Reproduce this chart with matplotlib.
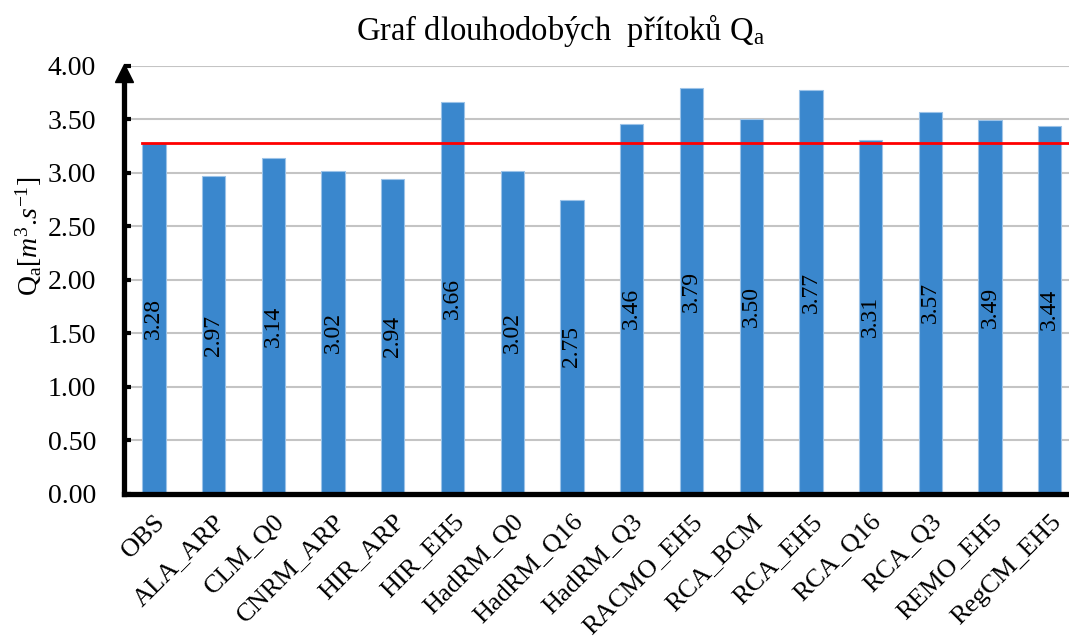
import matplotlib
matplotlib.use("Agg")
import matplotlib.pyplot as plt
import numpy as np

categories = ["OBS", "ALA_ARP", "CLM_Q0", "CNRM_ARP", "HIR_ARP", "HIR_EH5",
              "HadRM_Q0", "HadRM_Q16", "HadRM_Q3", "RACMO_EH5", "RCA_BCM",
              "RCA_EH5", "RCA_Q16", "RCA_Q3", "REMO_EH5", "RegCM_EH5"]
values = [3.28, 2.97, 3.14, 3.02, 2.94, 3.66, 3.02, 2.75, 3.46, 3.79, 3.50,
          3.77, 3.31, 3.57, 3.49, 3.44]
reference_value = 3.28
yticks = [0.0, 0.5, 1.0, 1.5, 2.0, 2.5, 3.0, 3.5, 4.0]

plt.rcParams['font.family'] = ['Liberation Serif', 'DejaVu Serif']
plt.rcParams['mathtext.fontset'] = 'custom'
plt.rcParams['mathtext.rm'] = 'Liberation Serif'
plt.rcParams['mathtext.it'] = 'Liberation Serif:italic'

fig = plt.figure(figsize=(10.69, 6.39), dpi=100)
ax = fig.add_axes([0.116, 0.227, 0.894, 0.670])

x = np.arange(len(categories))
bar_color = "#3A87CD"
ax.bar(x, values, width=0.39, color=bar_color, edgecolor="#9CC3E8",
       linewidth=0.8, zorder=2)

for xi, v in zip(x, values):
    ax.text(xi, v / 2, f"{v:.2f}", rotation=90, ha="center", va="center",
            fontsize=17, color="black", zorder=4)

ax.plot([-0.2, 15.5], [reference_value, reference_value], color="#FF0000",
        linewidth=2, zorder=3)

ax.set_xlim(-0.5, 15.5)
ax.set_ylim(0, 4.0)
ax.set_yticks(yticks)
ax.set_yticklabels([f"{t:.2f}" for t in yticks], fontsize=20)
ax.set_xticks(x)
ax.set_xticklabels(categories, rotation=45, ha="right", rotation_mode="anchor",
                   fontsize=19)
ax.tick_params(axis="x", length=0, pad=12)
ax.tick_params(axis="y", direction="in", length=5, width=3, pad=20,
               right=False)

ax.yaxis.grid(True, color="#C4C4C4", linewidth=1.5, zorder=0)
ax.set_axisbelow(True)

for s in ["top", "right"]:
    ax.spines[s].set_visible(False)
ax.spines["left"].set_linewidth(3.8)
ax.spines["bottom"].set_linewidth(3.8)
ax.spines["left"].set_bounds(0, 3.85)

# arrow head on y axis
ax.plot([-0.5], [3.93], marker="^", markersize=13, color="black",
        clip_on=False, zorder=5)

fig.text(0.524, 0.953, r"Graf dlouhodobých  přítoků Q$_\mathrm{a}$",
         ha="center", va="center", fontsize=23.5)
fig.text(0.027, 0.63, r"Q$_\mathrm{a}$[$m^3$.$s^{-1}$]", rotation=90,
         ha="center", va="center", fontsize=20)

fig.savefig("out.png", dpi=100)
